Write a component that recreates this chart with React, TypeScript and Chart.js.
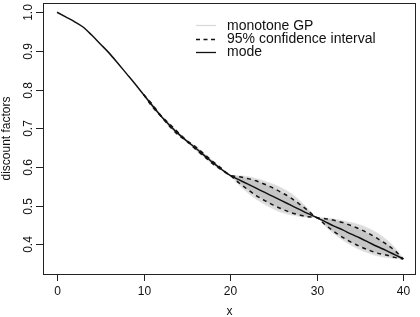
import { useEffect, useRef } from "react";
import { Chart, registerables } from "chart.js";

Chart.register(...registerables);

// Grid of maturities for the posterior mode
const xs = [
  0, 1, 2, 3, 4, 5, 6, 7, 8, 9, 10, 11, 12, 13, 14, 15, 16, 17, 18, 19, 20,
  21, 22, 23, 24, 25, 26, 27, 28, 29, 30, 31, 32, 33, 34, 35, 36, 37, 38, 39, 40,
];

// Posterior mode of the discount curve
const mode = [
  1.0, 0.988, 0.976, 0.962, 0.941, 0.918, 0.895, 0.869, 0.842, 0.815, 0.787,
  0.759, 0.732, 0.708, 0.686, 0.667, 0.649, 0.63, 0.611, 0.594, 0.578,
  0.567, 0.556, 0.545, 0.534, 0.523, 0.512, 0.501, 0.49, 0.479, 0.469,
  0.458, 0.447, 0.437, 0.426, 0.416, 0.405, 0.394, 0.384, 0.373, 0.362,
];

// Maturities where the uncertainty bands are drawn
const bandX = [
  10, 11, 12, 13, 14, 15, 16, 17, 18, 19, 20,
  21, 22, 23, 24, 25, 26, 27, 28, 29, 30,
  31, 32, 33, 34, 35, 36, 37, 38, 39, 40,
];

// Envelope of the monotone GP sample paths
const gpUpper = [
  0.787, 0.764, 0.734, 0.713, 0.69, 0.669, 0.654, 0.635, 0.616, 0.597, 0.578,
  0.577, 0.575, 0.57, 0.563, 0.555, 0.545, 0.532, 0.514, 0.492, 0.469,
  0.468, 0.465, 0.461, 0.456, 0.45, 0.441, 0.429, 0.413, 0.392, 0.362,
];
const gpLower = [
  0.787, 0.754, 0.73, 0.703, 0.682, 0.665, 0.644, 0.625, 0.606, 0.591, 0.578,
  0.554, 0.534, 0.517, 0.503, 0.491, 0.482, 0.476, 0.472, 0.47, 0.469,
  0.446, 0.427, 0.411, 0.397, 0.386, 0.377, 0.37, 0.366, 0.364, 0.362,
];

// 95% confidence interval
const ciUpper = [
  0.787, 0.762, 0.733, 0.711, 0.689, 0.668, 0.652, 0.633, 0.614, 0.596, 0.578,
  0.575, 0.57, 0.564, 0.555, 0.545, 0.533, 0.52, 0.504, 0.487, 0.469,
  0.466, 0.462, 0.456, 0.448, 0.439, 0.428, 0.415, 0.401, 0.384, 0.362,
];
const ciLower = [
  0.787, 0.756, 0.731, 0.705, 0.683, 0.666, 0.646, 0.627, 0.608, 0.592, 0.578,
  0.559, 0.542, 0.526, 0.513, 0.501, 0.491, 0.482, 0.476, 0.471, 0.469,
  0.45, 0.433, 0.418, 0.405, 0.394, 0.385, 0.377, 0.372, 0.366, 0.362,
];

const xTicks = [0, 10, 20, 30, 40];
const yTicks = [0.4, 0.5, 0.6, 0.7, 0.8, 0.9, 1.0];
const legendLabels = ["monotone GP", "95% confidence interval", "mode"];

const FONT = '"Liberation Sans", Arial, Helvetica, sans-serif';

const pts = (xv: number[], yv: number[]) => xv.map((x, i) => ({ x, y: yv[i] }));

// Base-graphics style frame: box, outward ticks, rotated y labels, legend
const framePlugin = {
  id: "frame",
  afterDraw(chart: any) {
    const { ctx, chartArea: a, scales } = chart;
    const sx = scales.x;
    const sy = scales.y;
    ctx.save();
    ctx.strokeStyle = "#222";
    ctx.lineWidth = 1;
    ctx.setLineDash([]);
    ctx.strokeRect(a.left + 0.5, a.top + 0.5, a.right - a.left - 1, a.bottom - a.top);

    ctx.fillStyle = "#111";
    ctx.font = `12px ${FONT}`;

    // x axis ticks and labels
    ctx.textAlign = "center";
    ctx.textBaseline = "alphabetic";
    xTicks.forEach((v) => {
      const px = Math.round(sx.getPixelForValue(v)) + 0.5;
      ctx.beginPath();
      ctx.moveTo(px, a.bottom);
      ctx.lineTo(px, a.bottom + 7);
      ctx.stroke();
      ctx.fillText(String(v), px, 295);
    });
    ctx.fillText("x", (a.left + a.right) / 2, 315);

    // y axis ticks and rotated labels
    yTicks.forEach((v) => {
      const py = Math.round(sy.getPixelForValue(v)) + 0.5;
      ctx.beginPath();
      ctx.moveTo(a.left - 7, py);
      ctx.lineTo(a.left, py);
      ctx.stroke();
      ctx.save();
      ctx.translate(32, py);
      ctx.rotate(-Math.PI / 2);
      ctx.fillText(v.toFixed(1), 0, 0);
      ctx.restore();
    });
    ctx.save();
    ctx.translate(10, (a.top + a.bottom) / 2);
    ctx.rotate(-Math.PI / 2);
    ctx.fillText("discount factors", 0, 0);
    ctx.restore();

    // legend
    const rows = [25, 38.5, 51.5];
    ctx.font = `14px ${FONT}`;
    ctx.textAlign = "left";
    ctx.textBaseline = "middle";
    rows.forEach((ry, i) => {
      ctx.beginPath();
      ctx.lineWidth = 1.3;
      if (i === 0) {
        ctx.strokeStyle = "#d9d9d9";
        ctx.setLineDash([]);
      } else if (i === 1) {
        ctx.strokeStyle = "#111";
        ctx.setLineDash([4, 3.5]);
      } else {
        ctx.strokeStyle = "#111";
        ctx.setLineDash([]);
      }
      ctx.moveTo(196, Math.round(ry) + 0.5);
      ctx.lineTo(216, Math.round(ry) + 0.5);
      ctx.stroke();
      ctx.fillStyle = "#111";
      ctx.fillText(legendLabels[i], 227, ry + 1);
    });
    ctx.restore();
  },
};

export default function App() {
  const canvasRef = useRef<HTMLCanvasElement | null>(null);

  useEffect(() => {
    const canvas = canvasRef.current;
    if (!canvas) return;
    const chart = new Chart(canvas, {
      type: "line",
      data: {
        datasets: [
          {
            label: "monotone GP",
            data: pts(bandX, gpUpper),
            borderColor: "#e2e2e2",
            borderWidth: 0.8,
            backgroundColor: "#dcdcdc",
            fill: "+1",
            pointRadius: 0,
            cubicInterpolationMode: "monotone",
            order: 5,
          },
          {
            label: "gp lower",
            data: pts(bandX, gpLower),
            borderColor: "#e2e2e2",
            borderWidth: 0.8,
            fill: false,
            pointRadius: 0,
            cubicInterpolationMode: "monotone",
            order: 4,
          },
          {
            label: "95% confidence interval",
            data: pts(bandX, ciUpper),
            borderColor: "#151515",
            borderWidth: 1.5,
            borderDash: [4, 4],
            backgroundColor: "#c6c6c6",
            fill: "+1",
            pointRadius: 0,
            cubicInterpolationMode: "monotone",
            order: 3,
          },
          {
            label: "ci lower",
            data: pts(bandX, ciLower),
            borderColor: "#151515",
            borderWidth: 1.5,
            borderDash: [4, 4],
            fill: false,
            pointRadius: 0,
            cubicInterpolationMode: "monotone",
            order: 2,
          },
          {
            label: "mode",
            data: pts(xs, mode),
            borderColor: "#111",
            borderWidth: 1.5,
            fill: false,
            pointRadius: 0,
            cubicInterpolationMode: "monotone",
            order: 1,
          },
        ],
      },
      options: {
        animation: false,
        responsive: false,
        events: [],
        layout: { padding: { left: 43, top: 3, right: 4, bottom: 43 } },
        scales: {
          x: { type: "linear", min: -1.62, max: 41.47, display: false },
          y: { type: "linear", min: 0.323, max: 1.024, display: false },
        },
        plugins: {
          legend: { display: false },
          tooltip: { enabled: false },
        },
      },
      plugins: [framePlugin],
    });
    return () => chart.destroy();
  }, []);

  return (
    <div style={{ position: "absolute", left: 0, top: 0, width: 420, height: 317, background: "#fff" }}>
      <canvas ref={canvasRef} width={420} height={317} style={{ display: "block" }} />
    </div>
  );
}
